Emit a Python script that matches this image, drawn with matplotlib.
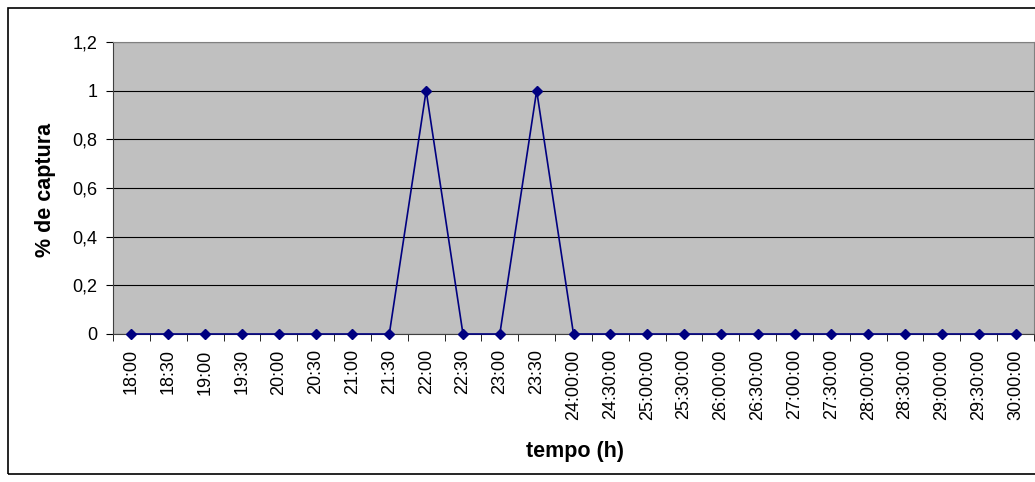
import numpy as np
import matplotlib.pyplot as plt
from matplotlib.patches import Rectangle

plt.rcParams['font.family'] = ['Liberation Sans', 'DejaVu Sans']

horas = ["18:00", "18:30", "19:00", "19:30", "20:00", "20:30", "21:00", "21:30",
         "22:00", "22:30", "23:00", "23:30", "24:00:00", "24:30:00", "25:00:00",
         "25:30:00", "26:00:00", "26:30:00", "27:00:00", "27:30:00", "28:00:00",
         "28:30:00", "29:00:00", "29:30:00", "30:00:00"]
captura = [0, 0, 0, 0, 0, 0, 0, 0, 1, 0, 0, 1, 0, 0, 0, 0, 0, 0, 0, 0, 0, 0, 0, 0, 0]
yticks = [0, 0.2, 0.4, 0.6, 0.8, 1, 1.2]
ylabels = ["0", "0,2", "0,4", "0,6", "0,8", "1", "1,2"]

fig = plt.figure(figsize=(10.35, 4.82), dpi=100)
ax = fig.add_axes([113 / 1035, 1 - 334 / 482, 921 / 1035, 292 / 482])

# borda do grafico
fig.patches.append(Rectangle((8 / 1035, 1 - 474 / 482), 1.2, 466 / 482,
                             transform=fig.transFigure, fill=False,
                             edgecolor='black', linewidth=1.2))

x = np.arange(len(horas))
ax.set_facecolor('#c0c0c0')
ax.plot(x, captura, color='#000080', linewidth=1.2, marker='D', markersize=5.5,
        zorder=3, clip_on=False)

ax.set_xlim(-0.5, len(horas) - 0.5)
ax.set_ylim(0, 1.2)
ax.set_yticks(yticks)
ax.set_yticklabels(ylabels, fontsize=13)
ax.yaxis.grid(True, color='black', linewidth=0.8)
ax.set_axisbelow(True)

ax.set_xticks(x)
ax.set_xticklabels(horas, rotation=90, fontsize=13)
ax.tick_params(axis='x', length=0, pad=11)
ax.set_xticks(np.arange(len(horas) + 1) - 0.5, minor=True)
ax.tick_params(axis='x', which='minor', length=5, direction='out')
ax.tick_params(axis='y', length=5, direction='out', pad=6)

for s in ['top', 'right']:
    ax.spines[s].set_color('#808080')
ax.spines['left'].set_color('#404040')
ax.spines['bottom'].set_color('#404040')

ax.set_xlabel("tempo (h)", fontsize=15.5, fontweight='bold', va='center')
ax.xaxis.set_label_coords((575 - 113) / 921, (334 - 451) / 292)
ax.set_ylabel("% de captura", fontsize=15.5, fontweight='bold', va='center')
ax.yaxis.set_label_coords((45 - 113) / 921, (334 - 190) / 292)

fig.savefig("out.png", dpi=100)
